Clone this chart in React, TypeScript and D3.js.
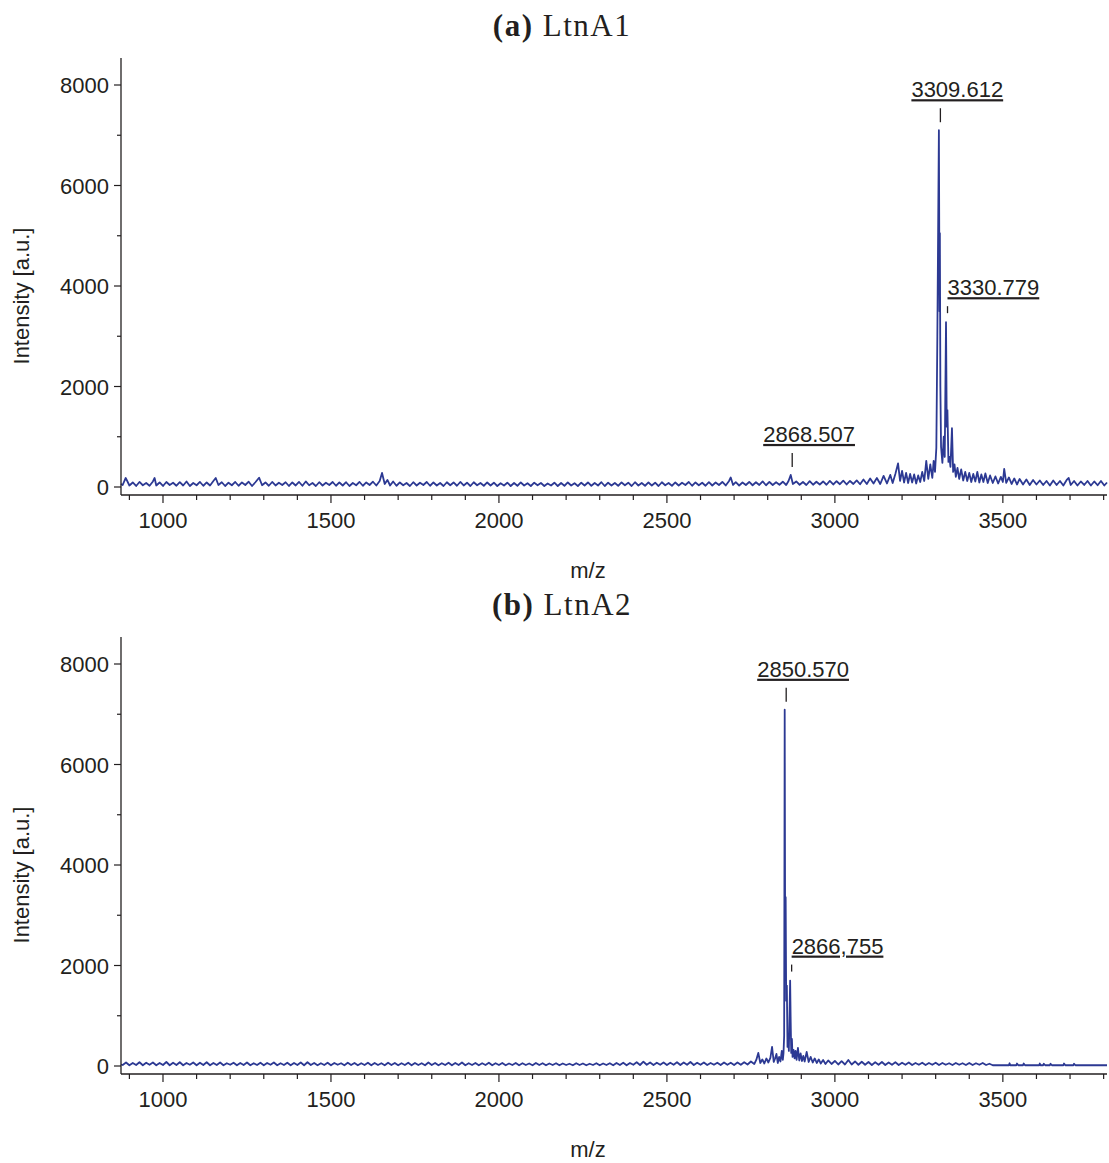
import React from 'react';
import * as d3 from 'd3';

// spectrum (a) LtnA1: [m/z, intensity]
const spectrumA: [number, number][] = [
  [875, 60], [880, 40], [889, 180], [900, 30], [910, 90], [920, 20], [930, 100], [940, 35], [950, 80], [960, 25],
  [970, 110], [975, 180], [980, 30], [990, 90], [1000, 20], [1010, 100], [1020, 40], [1030, 85], [1040, 25], [1050, 95],
  [1060, 30], [1070, 110], [1080, 20], [1090, 80], [1100, 35], [1110, 100], [1120, 25], [1130, 90], [1140, 30], [1150, 120],
  [1157, 180], [1165, 40], [1175, 95], [1185, 20], [1195, 85], [1205, 35], [1215, 100], [1225, 25], [1235, 90], [1245, 40],
  [1255, 105], [1265, 20], [1275, 95], [1286, 185], [1295, 35], [1305, 90], [1315, 25], [1325, 100], [1335, 30], [1345, 85],
  [1355, 40], [1365, 95], [1375, 20], [1385, 90], [1395, 30], [1405, 100], [1415, 25], [1425, 110], [1435, 35], [1445, 80],
  [1455, 20], [1465, 95], [1475, 30], [1485, 85], [1495, 40], [1505, 100], [1515, 25], [1525, 90], [1535, 30], [1545, 95],
  [1555, 20], [1565, 80], [1575, 35], [1585, 100], [1595, 25], [1605, 90], [1615, 40], [1625, 105], [1635, 30], [1645, 120],
  [1652, 280], [1660, 60], [1668, 140], [1676, 30], [1685, 110], [1695, 25], [1705, 90], [1715, 35], [1725, 80], [1735, 20],
  [1745, 95], [1755, 30], [1765, 85], [1775, 40], [1785, 100], [1795, 25], [1805, 90], [1815, 30], [1825, 80], [1835, 20],
  [1845, 95], [1855, 35], [1865, 90], [1875, 25], [1885, 100], [1895, 30], [1905, 85], [1915, 20], [1925, 95], [1935, 35],
  [1945, 80], [1955, 25], [1965, 90], [1975, 30], [1985, 85], [1995, 20], [2005, 75], [2015, 30], [2025, 85], [2035, 20],
  [2045, 80], [2055, 25], [2065, 90], [2075, 30], [2085, 75], [2095, 20], [2105, 85], [2115, 35], [2125, 80], [2135, 20],
  [2145, 70], [2155, 30], [2165, 85], [2175, 20], [2185, 80], [2195, 25], [2205, 90], [2215, 30], [2225, 75], [2235, 20],
  [2245, 85], [2255, 30], [2265, 90], [2275, 25], [2285, 80], [2295, 30], [2305, 95], [2315, 20], [2325, 85], [2335, 30],
  [2345, 80], [2355, 25], [2365, 90], [2375, 35], [2385, 85], [2395, 20], [2405, 95], [2415, 30], [2425, 80], [2435, 25],
  [2445, 90], [2455, 30], [2465, 85], [2475, 20], [2485, 95], [2495, 35], [2505, 80], [2515, 25], [2525, 90], [2535, 30],
  [2545, 85], [2555, 40], [2565, 100], [2575, 25], [2585, 90], [2595, 35], [2605, 85], [2615, 25], [2625, 95], [2635, 30],
  [2645, 90], [2655, 40], [2665, 100], [2675, 30], [2685, 120], [2690, 190], [2697, 40], [2705, 95], [2715, 30], [2725, 90],
  [2735, 40], [2745, 100], [2755, 35], [2765, 95], [2775, 40], [2785, 110], [2795, 35], [2805, 100], [2815, 40], [2825, 95],
  [2835, 45], [2845, 105], [2855, 40], [2862, 120], [2868.5, 240], [2875, 60], [2885, 110], [2895, 45], [2905, 100], [2915, 40],
  [2925, 115], [2935, 45], [2945, 105], [2955, 50], [2965, 110], [2975, 45], [2985, 120], [2995, 50], [3005, 115], [3015, 55],
  [3025, 125], [3035, 50], [3045, 120], [3055, 60], [3065, 130], [3075, 55], [3085, 150], [3095, 60], [3105, 170], [3115, 70],
  [3125, 180], [3135, 60], [3145, 220], [3155, 70], [3165, 240], [3172, 80], [3180, 260], [3188, 470], [3194, 120], [3200, 320],
  [3206, 90], [3212, 280], [3218, 80], [3224, 260], [3230, 90], [3236, 250], [3242, 70], [3248, 230], [3254, 100], [3260, 300],
  [3266, 120], [3272, 520], [3278, 160], [3284, 450], [3290, 180], [3294, 520], [3298, 300], [3302, 780], [3305, 3000], [3309.6, 7100],
  [3311.5, 3500], [3312.5, 5050], [3314, 2000], [3316, 800], [3320, 480], [3324, 1000], [3327, 600], [3330.8, 3280], [3333, 1200], [3335, 1530],
  [3338, 500], [3341, 600], [3344, 400], [3348.5, 1170], [3352, 300], [3356, 450], [3360, 200], [3365, 380], [3370, 160], [3376, 350],
  [3382, 130], [3388, 300], [3394, 120], [3400, 280], [3406, 100], [3412, 260], [3418, 110], [3424, 300], [3430, 90], [3436, 250],
  [3442, 100], [3448, 270], [3455, 80], [3462, 230], [3470, 80], [3478, 210], [3486, 70], [3494, 200], [3500, 100], [3504, 360],
  [3510, 80], [3518, 190], [3526, 60], [3534, 170], [3542, 50], [3550, 160], [3560, 50], [3570, 150], [3580, 40], [3590, 140],
  [3600, 50], [3610, 130], [3620, 40], [3630, 120], [3640, 30], [3650, 130], [3660, 40], [3670, 120], [3680, 30], [3690, 140],
  [3696, 180], [3702, 40], [3712, 120], [3722, 30], [3732, 110], [3742, 40], [3752, 120], [3762, 30], [3772, 110], [3782, 35],
  [3792, 120], [3802, 30], [3810, 90],
];

// spectrum (b) LtnA2: [m/z, intensity]
const spectrumB: [number, number][] = [
  [875, 30], [880, 20], [890, 70], [900, 15], [910, 60], [920, 20], [930, 75], [940, 15], [950, 65], [960, 25],
  [970, 70], [980, 15], [990, 60], [1000, 20], [1010, 80], [1020, 15], [1030, 65], [1040, 20], [1050, 75], [1060, 15],
  [1070, 60], [1080, 25], [1090, 70], [1100, 15], [1110, 65], [1120, 20], [1130, 75], [1140, 15], [1150, 60], [1160, 20],
  [1170, 70], [1180, 15], [1190, 55], [1200, 25], [1210, 65], [1220, 15], [1230, 60], [1240, 20], [1250, 70], [1260, 15],
  [1270, 55], [1280, 20], [1290, 65], [1300, 15], [1310, 60], [1320, 25], [1330, 70], [1340, 15], [1350, 55], [1360, 20],
  [1370, 65], [1380, 15], [1390, 60], [1400, 20], [1410, 70], [1420, 15], [1430, 75], [1440, 20], [1450, 60], [1460, 15],
  [1470, 55], [1480, 20], [1490, 65], [1500, 15], [1510, 60], [1520, 25], [1530, 55], [1540, 15], [1550, 65], [1560, 20],
  [1570, 60], [1580, 15], [1590, 55], [1600, 20], [1610, 65], [1620, 15], [1630, 60], [1640, 20], [1650, 55], [1660, 15],
  [1670, 65], [1680, 20], [1690, 60], [1700, 15], [1710, 55], [1720, 20], [1730, 65], [1740, 15], [1750, 60], [1760, 20],
  [1770, 55], [1780, 15], [1790, 70], [1800, 20], [1810, 60], [1820, 15], [1830, 55], [1840, 20], [1850, 65], [1860, 15],
  [1870, 60], [1880, 20], [1890, 70], [1900, 15], [1910, 55], [1920, 20], [1930, 60], [1940, 15], [1950, 55], [1960, 20],
  [1970, 65], [1980, 15], [1990, 55], [2000, 20], [2010, 60], [2020, 15], [2030, 50], [2040, 20], [2050, 60], [2060, 15],
  [2070, 55], [2080, 20], [2090, 50], [2100, 15], [2110, 60], [2120, 20], [2130, 55], [2140, 15], [2150, 50], [2160, 20],
  [2170, 55], [2180, 15], [2190, 50], [2200, 20], [2210, 45], [2220, 15], [2230, 55], [2240, 20], [2250, 50], [2260, 15],
  [2270, 45], [2280, 20], [2290, 55], [2300, 15], [2310, 50], [2320, 20], [2330, 55], [2340, 15], [2350, 60], [2360, 20],
  [2370, 65], [2380, 15], [2390, 60], [2400, 25], [2410, 75], [2420, 20], [2430, 85], [2440, 25], [2450, 70], [2460, 20],
  [2470, 65], [2480, 25], [2490, 70], [2500, 20], [2510, 65], [2520, 25], [2530, 75], [2540, 20], [2550, 70], [2560, 25],
  [2570, 80], [2580, 20], [2590, 65], [2600, 25], [2610, 70], [2620, 20], [2630, 60], [2640, 25], [2650, 65], [2660, 20],
  [2670, 70], [2680, 25], [2690, 65], [2700, 20], [2710, 70], [2720, 25], [2730, 75], [2740, 30], [2750, 90], [2760, 40],
  [2766, 120], [2772, 260], [2778, 60], [2784, 130], [2790, 50], [2796, 150], [2802, 70], [2808, 160], [2813, 380], [2818, 80],
  [2822, 150], [2826, 240], [2830, 60], [2834, 180], [2838, 90], [2842, 300], [2845, 120], [2847, 250], [2849, 600], [2850.6, 7090],
  [2852, 2400], [2853.5, 3360], [2855, 1300], [2857, 1600], [2859, 380], [2861, 550], [2863, 300], [2866.8, 1700], [2868.5, 870], [2870, 260],
  [2872, 540], [2874, 180], [2877, 320], [2880, 150], [2883, 300], [2886, 120], [2890, 360], [2894, 110], [2898, 250], [2902, 100],
  [2906, 200], [2910, 90], [2916, 280], [2922, 80], [2928, 180], [2934, 70], [2940, 150], [2946, 60], [2952, 130], [2958, 50],
  [2965, 120], [2972, 40], [2980, 110], [2990, 40], [3000, 100], [3010, 30], [3020, 95], [3030, 30], [3040, 120], [3050, 30],
  [3060, 90], [3070, 25], [3080, 85], [3090, 25], [3100, 80], [3110, 20], [3120, 75], [3130, 25], [3140, 80], [3150, 20],
  [3160, 70], [3170, 25], [3180, 75], [3190, 20], [3200, 65], [3210, 25], [3220, 70], [3230, 20], [3240, 60], [3250, 25],
  [3260, 65], [3270, 20], [3280, 60], [3290, 25], [3300, 65], [3310, 20], [3320, 60], [3330, 25], [3340, 55], [3350, 20],
  [3360, 60], [3370, 25], [3380, 55], [3390, 20], [3400, 60], [3410, 20], [3420, 55], [3430, 25], [3440, 60], [3450, 20],
  [3460, 45], [3470, 15], [3490, 15], [3518, 15], [3520, 55], [3522, 15], [3540, 15], [3542, 50], [3546, 15], [3560, 15],
  [3562, 50], [3566, 15], [3608, 15], [3610, 50], [3612, 15], [3620, 15], [3622, 45], [3626, 15], [3640, 15], [3642, 45],
  [3646, 15], [3680, 15], [3682, 50], [3686, 15], [3710, 15], [3712, 45], [3716, 15], [3810, 15],
];

// peak labels: m/z, text, placement ('top' = label left of peak, 'side' = label starting at peak)
const peaksA = [
  { mz: 3309.6, label: '3309.612', place: 'top' },
  { mz: 3330.8, label: '3330.779', place: 'side' },
  { mz: 2868.5, label: '2868.507', place: 'top' },
];
const peaksB = [
  { mz: 2850.6, label: '2850.570', place: 'top' },
  { mz: 2866.8, label: '2866,755', place: 'side' },
];

const titles = [['(a)', 'LtnA1'], ['(b)', 'LtnA2']];
const xDomain = [875, 3810];
const yMax = 8000;
const xTickValues = d3.range(900, 3801, 100);
const yTickValues = d3.range(0, 8001, 1000);

const BLUE = '#2c3993';
const INK = '#231f20';
const SANS = '"Liberation Sans", Arial, Helvetica, sans-serif';

const placeStyle: Record<string, { dx: number; len: number; gap: number }> = {
  top: { dx: -29, len: 14, gap: 8 },
  side: { dx: 0, len: 7, gap: 9 },
};

const x = d3.scaleLinear().domain(xDomain).range([121, 1107]);

const Panel = ({ data, peaks, title, top }) => {
  const y = d3.scaleLinear().domain([0, yMax]).range([487 + top, 85 + top]);
  const axisY = 495 + top;
  const line = d3.line<[number, number]>().x(d => x(d[0])).y(d => y(d[1]));

  return (
    <g>
      <text x={562} y={36 + top} textAnchor="middle" fontFamily='"Liberation Serif", "Times New Roman", serif'
        fontSize={31} letterSpacing={1.5} fill={INK}>
        <tspan fontWeight="bold">{title[0]}</tspan>
        <tspan> {title[1]}</tspan>
      </text>

      <path d={line(data)} fill="none" stroke={BLUE} strokeWidth={1.8} strokeLinejoin="round" />

      {/* y axis */}
      <line x1={121} x2={121} y1={58 + top} y2={axisY} stroke={INK} strokeWidth={1.3} />
      {yTickValues.map(v => {
        const major = v % 2000 === 0;
        return (
          <g key={v}>
            <line x1={major ? 114 : 117} x2={121} y1={y(v)} y2={y(v)} stroke={INK} strokeWidth={1.2} />
            {major && (
              <text x={109} y={y(v) + 8} textAnchor="end" fontFamily={SANS} fontSize={22} fill={INK}>{v}</text>
            )}
          </g>
        );
      })}
      <text transform={`translate(29,${296 + top}) rotate(-90)`} textAnchor="middle" fontFamily={SANS}
        fontSize={22} fill={INK}>Intensity [a.u.]</text>

      {/* x axis */}
      <line x1={121} x2={1107} y1={axisY} y2={axisY} stroke={INK} strokeWidth={1.3} />
      {xTickValues.map(v => {
        const major = v % 500 === 0;
        return (
          <g key={v}>
            <line x1={x(v)} x2={x(v)} y1={axisY} y2={axisY + (major ? 8 : 5)} stroke={INK} strokeWidth={1.2} />
            {major && (
              <text x={x(v)} y={528 + top} textAnchor="middle" fontFamily={SANS} fontSize={22} fill={INK}>{v}</text>
            )}
          </g>
        );
      })}
      <text x={588} y={578 + top} textAnchor="middle" fontFamily={SANS} fontSize={22} fill={INK}>m/z</text>

      {/* peak labels */}
      {peaks.map(p => {
        const s = placeStyle[p.place];
        const apex = d3.max(data.filter(d => Math.abs(d[0] - p.mz) < 1.5), d => d[1]);
        const px = x(p.mz) + 1.5;
        const bottom = y(apex) - s.gap;
        const tickTop = bottom - s.len;
        return (
          <g key={p.label}>
            <line x1={px} x2={px} y1={tickTop} y2={bottom} stroke={INK} strokeWidth={1.3} />
            <text x={px + s.dx} y={tickTop - 11} fontFamily={SANS} fontSize={22} fill={INK}
              style={{ textDecoration: 'underline' }}>{p.label}</text>
          </g>
        );
      })}
    </g>
  );
};

export default function App() {
  return (
    <div style={{ position: 'absolute', left: 0, top: 0 }}>
      <svg width={1109} height={1163} style={{ display: 'block', background: '#fff' }}>
        <Panel data={spectrumA} peaks={peaksA} title={titles[0]} top={0} />
        <Panel data={spectrumB} peaks={peaksB} title={titles[1]} top={579} />
      </svg>
    </div>
  );
}
